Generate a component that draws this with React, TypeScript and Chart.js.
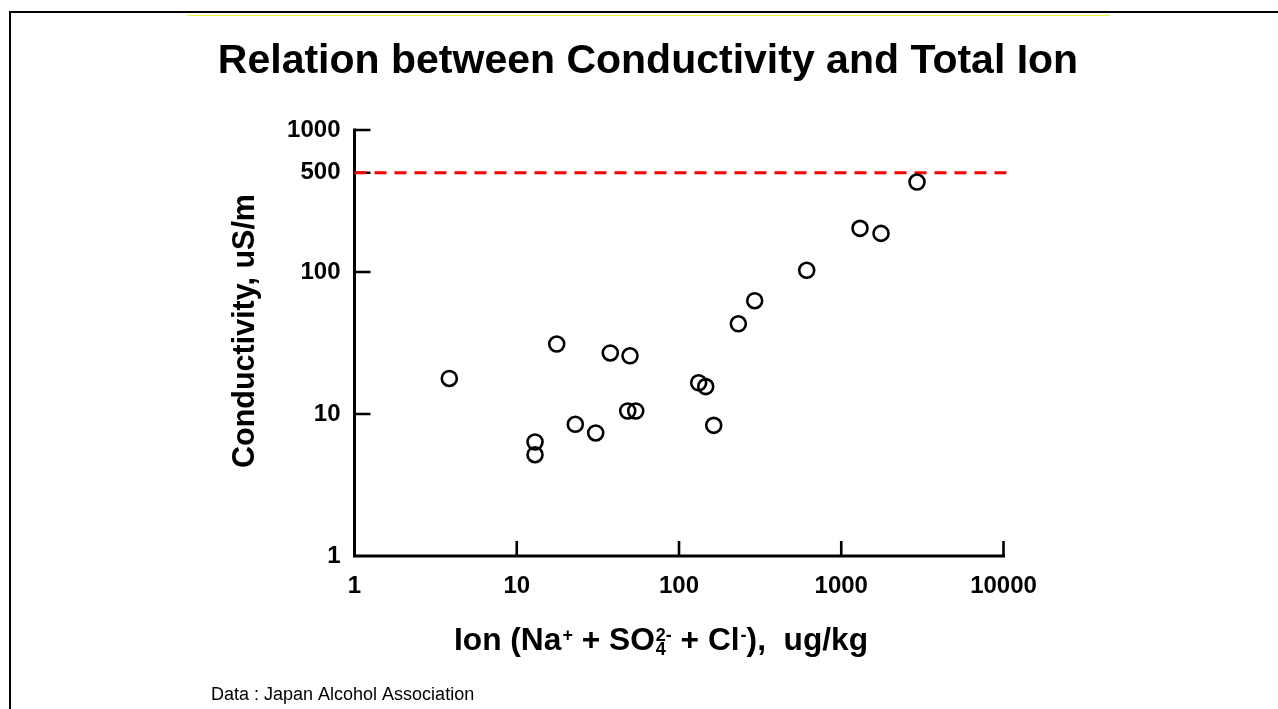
import React, { useEffect, useRef } from 'react';
import { Chart, registerables } from 'chart.js';

Chart.register(...registerables);

// ---- data ----
const ionValues = [3.84, 12.96, 12.96, 17.63, 22.96, 30.66, 37.72, 49.9, 48.3, 54.1, 132.2, 146.1, 163.7, 232.1, 292.8, 612.4, 1305, 1758, 2931];
const conductivityValues = [17.8, 6.35, 5.17, 31.1, 8.46, 7.35, 26.9, 25.7, 10.5, 10.5, 16.6, 15.6, 8.32, 43.2, 62.8, 102.8, 203, 187, 430];
const xTickValues = [1, 10, 100, 1000, 10000];
const yTickValues = [1, 10, 100, 500, 1000];
const limitValue = 500;
const limitRange = [1, 10660];

const titleText = 'Relation between Conductivity and Total Ion';
const yTitleText = 'Conductivity, uS/m';
const sourceText = 'Data : Japan Alcohol Association';
// x title pieces: [text, kind]
const xTitleParts: [string, string][] = [
  ['Ion (Na', 'n'],
  ['+', 'sup'],
  [' + SO', 'n'],
  ['4|2-', 'subsup'],
  [' + Cl', 'n'],
  ['-', 'sup'],
  ['),  ug/kg', 'n'],
];

const FONT = '"Liberation Sans", Arial, Helvetica, sans-serif';

const decor = {
  id: 'decor',
  beforeDraw(chart: any) {
    const ctx = chart.ctx;
    ctx.save();
    ctx.fillStyle = '#ffffff';
    ctx.fillRect(0, 0, chart.width, chart.height);
    ctx.fillStyle = '#000000';
    ctx.fillRect(9, 11, chart.width - 9, 2);
    ctx.fillRect(9, 11, 2, chart.height - 11);
    ctx.fillStyle = '#f2f23a';
    ctx.fillRect(187, 15, 923, 1);
    ctx.restore();
  },
  beforeDatasetsDraw(chart: any) {
    const { ctx, chartArea: a, scales } = chart;
    const x = scales.x;
    const y = scales.y;
    ctx.save();
    ctx.strokeStyle = '#000000';
    ctx.lineWidth = 3;
    ctx.lineCap = 'butt';
    const yTop = y.getPixelForValue(yTickValues[yTickValues.length - 1]);
    const xRight = x.getPixelForValue(xTickValues[xTickValues.length - 1]);
    ctx.beginPath();
    ctx.moveTo(a.left, a.bottom + 1.5);
    ctx.lineTo(a.left, yTop - 1.5);
    ctx.moveTo(a.left - 1.5, a.bottom);
    ctx.lineTo(xRight + 1.5, a.bottom);
    ctx.stroke();
    ctx.lineWidth = 2.6;
    ctx.beginPath();
    yTickValues.slice(1).forEach((v) => {
      const py = y.getPixelForValue(v);
      ctx.moveTo(a.left, py);
      ctx.lineTo(a.left + 16, py);
    });
    xTickValues.slice(1).forEach((v) => {
      const px = x.getPixelForValue(v);
      ctx.moveTo(px, a.bottom);
      ctx.lineTo(px, a.bottom - 15);
    });
    ctx.stroke();
    ctx.restore();
  },
  afterDraw(chart: any) {
    const ctx = chart.ctx;
    ctx.save();
    ctx.fillStyle = '#000000';
    // main title
    ctx.font = `bold 41px ${FONT}`;
    ctx.textAlign = 'center';
    ctx.textBaseline = 'alphabetic';
    ctx.fillText(titleText, 648, 73);
    // y title
    ctx.save();
    ctx.translate(254, 331);
    ctx.rotate(-Math.PI / 2);
    ctx.font = `bold 30.5px ${FONT}`;
    ctx.textAlign = 'center';
    ctx.fillText(yTitleText, 0, 0);
    ctx.restore();
    // x title
    ctx.textAlign = 'left';
    let cx = 454;
    const base = 650;
    const big = `bold 31.7px ${FONT}`;
    const small = `bold 18px ${FONT}`;
    xTitleParts.forEach(([t, k]) => {
      if (k === 'n') {
        ctx.font = big;
        ctx.fillText(t, cx, base);
        cx += ctx.measureText(t).width;
      } else if (k === 'sup') {
        ctx.font = small;
        ctx.fillText(t, cx + 1, base - 9);
        cx += ctx.measureText(t).width + 1;
      } else {
        const [sb, sp] = t.split('|');
        ctx.font = small;
        ctx.fillText(sb, cx + 1, base + 5);
        ctx.fillText(sp, cx + 1, base - 9);
        cx += Math.max(ctx.measureText(sb).width, ctx.measureText(sp).width) + 1;
      }
    });
    // source
    ctx.font = `18px ${FONT}`;
    ctx.fillText(sourceText, 211, 700);
    ctx.restore();
  },
};

export default function App() {
  const ref = useRef<HTMLCanvasElement>(null);
  useEffect(() => {
    const tickFont = { family: FONT, size: 24, weight: 'bold' as const };
    const chart = new Chart(ref.current as HTMLCanvasElement, {
      type: 'scatter',
      data: {
        datasets: [
          {
            type: 'line',
            data: limitRange.map((v) => ({ x: v, y: limitValue })),
            borderColor: '#ff0000',
            borderWidth: 3,
            borderDash: [12, 8],
            pointRadius: 0,
            fill: false,
            clip: false as any,
            order: 1,
          } as any,
          {
            type: 'scatter',
            data: ionValues.map((v, i) => ({ x: v, y: conductivityValues[i] })),
            pointStyle: 'circle',
            pointRadius: 7.5,
            borderWidth: 2.6,
            borderColor: '#000000',
            backgroundColor: 'rgba(0,0,0,0)',
            clip: false as any,
            order: 0,
          } as any,
        ],
      },
      options: {
        responsive: false,
        animation: false,
        devicePixelRatio: 1,
        events: [],
        layout: { padding: { left: 0, right: 274.5, top: 130, bottom: 0 } },
        plugins: {
          legend: { display: false },
          tooltip: { enabled: false },
          title: { display: false },
        },
        scales: {
          x: {
            type: 'logarithmic',
            position: 'bottom',
            min: 1,
            max: 10000,
            grid: { display: false, drawTicks: false },
            border: { display: false },
            ticks: {
              autoSkip: false,
              maxRotation: 0,
              padding: 16,
              color: '#000000',
              font: tickFont,
              callback: (v: any) => String(v),
            },
            afterBuildTicks: (s: any) => {
              s.ticks = xTickValues.map((v) => ({ value: v }));
            },
            afterFit: (s: any) => {
              s.height = 153;
            },
          },
          y: {
            type: 'logarithmic',
            position: 'left',
            min: 1,
            max: 1000,
            grid: { display: false, drawTicks: false },
            border: { display: false },
            ticks: {
              autoSkip: false,
              padding: 14,
              color: '#000000',
              font: tickFont,
              callback: (v: any) => String(v),
            },
            afterBuildTicks: (s: any) => {
              s.ticks = yTickValues.map((v) => ({ value: v }));
            },
            afterFit: (s: any) => {
              s.width = 354.5;
            },
          },
        } as any,
      },
      plugins: [decor],
    });
    return () => chart.destroy();
  }, []);
  return (
    <div style={{ position: 'fixed', left: 0, top: 0, width: 1278, height: 709, background: '#ffffff' }}>
      <canvas ref={ref} width={1278} height={709} style={{ display: 'block', width: 1278, height: 709 }} />
    </div>
  );
}
